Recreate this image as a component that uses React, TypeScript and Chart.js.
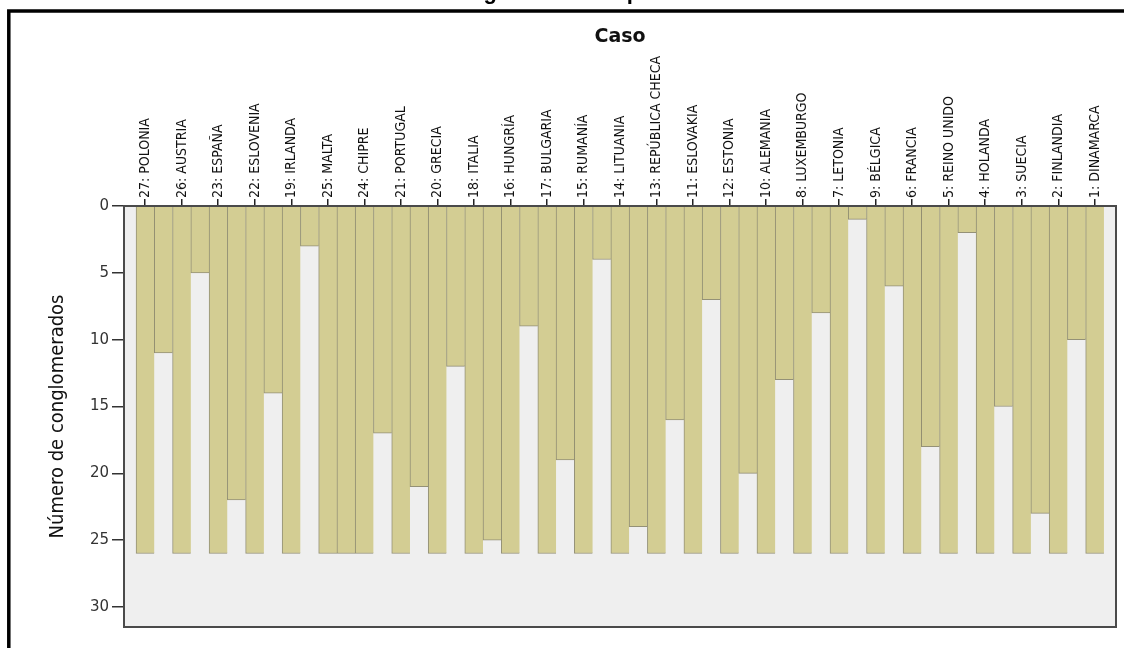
import React, { useEffect, useRef } from "react";
import { Chart, registerables } from "chart.js";

Chart.register(...registerables);

// ---------- data ----------
const caseLabels = [
  "27: POLONIA", "26: AUSTRIA", "23: ESPAÑA", "22: ESLOVENIA", "19: IRLANDA",
  "25: MALTA", "24: CHIPRE", "21: PORTUGAL", "20: GRECIA", "18: ITALIA",
  "16: HUNGRÍA", "17: BULGARIA", "15: RUMANÍA", "14: LITUANIA", "13: REPÚBLICA CHECA",
  "11: ESLOVAKIA", "12: ESTONIA", "10: ALEMANIA", "8: LUXEMBURGO", "7: LETONIA",
  "9: BÉLGICA", "6: FRANCIA", "5: REINO UNIDO", "4: HOLANDA", "3: SUECIA",
  "2: FINLANDIA", "1: DINAMARCA",
];
// depth of every case column (number of clusters)
const caseDepth = 26;
// depth of the join column between consecutive cases (left to right)
const joinLevels = [
  11, 5, 22, 14, 3, 26, 17, 21, 12, 25, 9, 19, 4, 24, 16, 7, 20, 13, 8, 1, 6, 18, 2, 15, 23, 10,
];
const yTickValues = [0, 5, 10, 15, 20, 25, 30];
const yMax = 31.5;
const chartTitle = "Diagrama de témpanos vertical";
const xTitle = "Caso";
const yTitle = "Número de conglomerados";

const NARROW = '"Liberation Sans Narrow", "DejaVu Sans Condensed", "Arial Narrow", sans-serif';

export default function App() {
  const canvasRef = useRef<HTMLCanvasElement | null>(null);

  useEffect(() => {
    const canvas = canvasRef.current;
    if (!canvas) return;

    const columns: { x: number; y: [number, number] }[] = [];
    caseLabels.forEach((_, i) => {
      columns.push({ x: 2 * i, y: [0, caseDepth] });
      if (i < joinLevels.length) columns.push({ x: 2 * i + 1, y: [0, joinLevels[i]] });
    });

    const decorPlugin = {
      id: "decor",
      beforeDatasetsDraw(chart: any) {
        const { ctx, chartArea } = chart;
        ctx.save();
        ctx.fillStyle = "#efefef";
        ctx.fillRect(chartArea.left, chartArea.top, chartArea.right - chartArea.left, chartArea.bottom - chartArea.top);
        ctx.restore();
      },
      afterDraw(chart: any) {
        const { ctx, chartArea } = chart;
        ctx.save();
        // plot frame
        ctx.strokeStyle = "#4a4a4a";
        ctx.lineWidth = 2;
        ctx.strokeRect(chartArea.left, chartArea.top, chartArea.right - chartArea.left, chartArea.bottom - chartArea.top);
        // outer black frame (top and left only visible)
        ctx.strokeStyle = "#000";
        ctx.lineWidth = 3.5;
        ctx.beginPath();
        ctx.moveTo(8.8, 648);
        ctx.lineTo(8.8, 11);
        ctx.lineTo(1124, 11);
        ctx.stroke();
        // cropped main title (only descenders visible)
        ctx.fillStyle = "#000";
        ctx.font = 'bold 22px "Liberation Sans", Arial, sans-serif';
        ctx.textAlign = "center";
        ctx.textBaseline = "alphabetic";
        ctx.fillText(chartTitle, 612, -1);
        ctx.restore();
      },
    };

    const chart = new Chart(canvas, {
      type: "bar",
      data: {
        datasets: [
          {
            data: columns as any,
            backgroundColor: "#d3cd93",
            borderColor: "rgba(110,105,68,0.7)",
            borderWidth: { left: 1, right: 0, top: 0, bottom: 1 } as any,
            borderSkipped: false,
            categoryPercentage: 1,
            barPercentage: 1,
          },
        ],
      },
      options: {
        animation: false,
        responsive: false,
        devicePixelRatio: 1,
        layout: { padding: { left: 0, right: 8, top: 0, bottom: 21 } },
        plugins: {
          legend: { display: false },
          tooltip: { enabled: false },
        },
        scales: {
          x: {
            type: "linear",
            position: "top",
            offset: false,
            min: -1.16,
            max: 53.16,
            afterBuildTicks: (s: any) => {
              s.ticks = caseLabels.map((_, i) => ({ value: 2 * i }));
            },
            afterFit: (s: any) => {
              s.height = 206;
              s.paddingLeft = 0;
              s.paddingRight = 0;
              s.paddingTop = 0;
              s.paddingBottom = 0;
            },
            ticks: {
              autoSkip: false,
              minRotation: 90,
              maxRotation: 90,
              padding: 1,
              labelOffset: 17,
              color: "#111",
              font: { family: NARROW, size: 14 },
              callback: (v: any) => caseLabels[Math.round(Number(v) / 2)] ?? "",
            },
            grid: { offset: false, drawOnChartArea: false, drawTicks: true, tickLength: 7, color: "#222", lineWidth: 1.5 },
            border: { display: false },
            title: {
              display: true,
              text: xTitle,
              color: "#111",
              font: { family: '"DejaVu Sans", sans-serif', size: 19, weight: "bold" },
              padding: { top: 26, bottom: 0 },
            },
          },
          y: {
            type: "linear",
            reverse: true,
            min: 0,
            max: yMax,
            afterBuildTicks: (s: any) => {
              s.ticks = yTickValues.map((v) => ({ value: v }));
            },
            afterFit: (s: any) => {
              s.width = 124;
            },
            ticks: {
              color: "#333",
              padding: 3,
              font: { family: '"DejaVu Sans", sans-serif', size: 15 },
            },
            grid: { drawOnChartArea: false, drawTicks: true, tickLength: 12, color: "#333", lineWidth: 1.5 },
            border: { display: false },
            title: {
              display: true,
              text: yTitle,
              color: "#111",
              font: { family: NARROW, size: 20 },
              padding: { top: 46, bottom: 0 },
            },
          },
        },
      } as any,
      plugins: [decorPlugin],
    });

    return () => chart.destroy();
  }, []);

  return (
    <div style={{ position: "fixed", left: 0, top: 0, width: 1124, height: 648, background: "#fff" }}>
      <canvas ref={canvasRef} width={1124} height={648} style={{ display: "block", width: 1124, height: 648 }} />
    </div>
  );
}
